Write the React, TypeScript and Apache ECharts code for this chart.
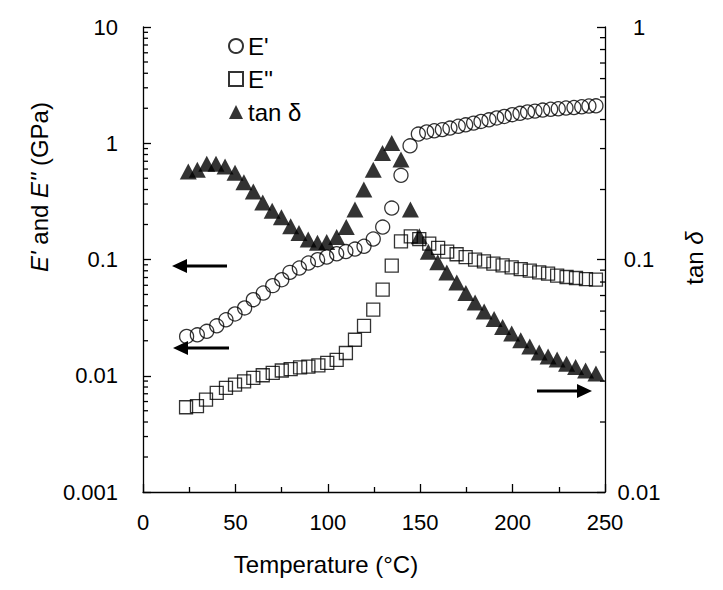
import React, { useEffect, useRef } from "react";
import * as echarts from "echarts";

// Temperature (°C) and moduli (GPa)
const tempStorage = [23.6, 29.4, 34.5, 39.9, 44.9, 49.8, 55.0, 59.7, 65.1, 70.2, 75.1, 79.5, 84.6, 89.5, 94.5, 99.4, 104.8, 109.8, 114.7, 119.6, 124.6, 129.7, 134.6, 139.6, 144.5, 149.0, 153.5, 157.6, 162.0, 166.1, 170.6, 174.6, 178.9, 182.9, 187.2, 191.4, 195.5, 199.8, 204.0, 208.1, 212.1, 216.3, 220.6, 224.7, 228.9, 233.2, 237.4, 241.3, 245.1];
const storageModulus = [0.0218, 0.0225, 0.0241, 0.0269, 0.0303, 0.034, 0.0383, 0.0451, 0.0515, 0.0596, 0.067, 0.0775, 0.0845, 0.0933, 0.0996, 0.105, 0.112, 0.117, 0.123, 0.13, 0.15, 0.19, 0.277, 0.53, 0.95, 1.2, 1.25, 1.28, 1.31, 1.35, 1.4, 1.44, 1.49, 1.54, 1.59, 1.65, 1.7, 1.76, 1.81, 1.86, 1.89, 1.93, 1.96, 1.98, 2.01, 2.03, 2.06, 2.09, 2.1];

const tempLoss = [23.3, 29.2, 34.1, 39.9, 44.9, 49.8, 54.7, 59.7, 64.8, 70.2, 75.1, 79.9, 85.0, 89.5, 94.9, 99.7, 104.8, 109.8, 114.7, 119.6, 124.6, 129.7, 134.6, 139.6, 144.9, 149.5, 154.9, 159.7, 164.6, 169.7, 174.6, 179.7, 184.5, 189.6, 194.6, 199.5, 204.4, 209.3, 214.4, 219.2, 224.1, 229.2, 234.3, 239.7, 245.1];
const lossModulus = [0.00536, 0.00547, 0.00622, 0.00711, 0.00785, 0.00838, 0.00894, 0.00957, 0.0101, 0.0106, 0.0111, 0.0114, 0.0118, 0.012, 0.0123, 0.0129, 0.0137, 0.0157, 0.0204, 0.0269, 0.037, 0.055, 0.0885, 0.143, 0.158, 0.15, 0.137, 0.126, 0.117, 0.111, 0.105, 0.0996, 0.0964, 0.092, 0.089, 0.0855, 0.0828, 0.0801, 0.0775, 0.0755, 0.0726, 0.0707, 0.0693, 0.0679, 0.067];

const tempTan = [24.5, 29.4, 34.5, 39.5, 44.4, 49.8, 54.6, 59.7, 64.8, 69.9, 74.9, 79.9, 84.4, 89.4, 94.4, 99.4, 104.8, 110.0, 114.7, 119.5, 124.6, 129.6, 134.6, 139.6, 144.7, 149.5, 154.4, 159.5, 164.4, 169.8, 174.7, 179.7, 184.6, 190.0, 194.6, 199.5, 204.4, 209.3, 214.4, 219.2, 224.1, 229.2, 234.1, 239.5, 245.1];
const tanDelta = [0.239, 0.243, 0.258, 0.258, 0.251, 0.236, 0.215, 0.196, 0.176, 0.162, 0.152, 0.139, 0.13, 0.122, 0.118, 0.119, 0.125, 0.138, 0.164, 0.2, 0.243, 0.287, 0.317, 0.269, 0.164, 0.126, 0.108, 0.0972, 0.088, 0.0797, 0.0718, 0.0654, 0.0598, 0.0555, 0.0513, 0.048, 0.0449, 0.0423, 0.0398, 0.0383, 0.0371, 0.0356, 0.0345, 0.0333, 0.0323];

const seriesNames = ["E'", "E''", "tan δ"];
const leftDecades = [0.001, 0.01, 0.1, 1];
const rightDecades = [0.01, 0.1];
const minorMultipliers = [2, 3, 4, 5, 6, 7, 8, 9];

const FONT = "'Liberation Sans', Arial, sans-serif";
const TICK_FS = 22;
const TITLE_FS = 24;

const minorValues = (decades: number[]) =>
  decades.flatMap((d) => minorMultipliers.map((m) => +(d * m).toPrecision(3)));

const fmt = (v: number) => String(parseFloat(Number(v).toPrecision(6)));

export default function App() {
  const ref = useRef<HTMLDivElement>(null);

  useEffect(() => {
    if (!ref.current) return;
    const chart = echarts.init(ref.current, undefined, { renderer: "svg" });

    const tickSeries = (vals: number[], axisIdx: number, xVal: number, dir: number) => ({
      type: "custom",
      name: "ticks" + axisIdx,
      yAxisIndex: axisIdx,
      silent: true,
      clip: false,
      z: 5,
      data: vals.map((v) => [xVal, v]),
      renderItem: (_p: any, api: any) => {
        const p = api.coord([api.value(0), api.value(1)]);
        return {
          type: "line",
          shape: { x1: p[0], y1: p[1], x2: p[0] + dir * 5, y2: p[1] },
          style: { stroke: "#000", lineWidth: 1.3 },
        };
      },
    });

    const axisLineStyle = { color: "#000", width: 1.3 };

    const arrow = (tipX: number, y: number, tailX: number) => {
      const dir = tailX > tipX ? 1 : -1;
      const baseX = tipX + dir * 15;
      return [
        {
          type: "line",
          shape: { x1: baseX - dir * 1, y1: y, x2: tailX, y2: y },
          style: { stroke: "#000", lineWidth: 3 },
        },
        {
          type: "polygon",
          shape: { points: [[tipX, y], [baseX, y - 7], [baseX, y + 7]] },
          style: { fill: "#000" },
        },
      ];
    };

    const titleText = (text: string, x: number, y: number, rotation: number) => ({
      type: "text",
      x,
      y,
      rotation,
      style: {
        text,
        fontSize: TITLE_FS,
        fontFamily: FONT,
        fill: "#000",
        align: "center",
        verticalAlign: "middle",
        rich: { i: { fontStyle: "italic", fontSize: TITLE_FS, fontFamily: FONT, fill: "#000" } },
      },
    });

    chart.setOption({
      animation: false,
      textStyle: { fontFamily: FONT, color: "#000" },
      grid: { left: 143, top: 27, width: 462, height: 465 },
      legend: {
        orient: "vertical",
        left: 223,
        top: 29,
        itemWidth: 14,
        itemHeight: 14,
        itemGap: 9,
        selectedMode: false,
        data: [
          { name: seriesNames[0], icon: "circle" },
          { name: seriesNames[1], icon: "rect" },
          { name: seriesNames[2], icon: "triangle" },
        ],
        textStyle: { fontSize: TITLE_FS, color: "#000", fontFamily: FONT },
      },
      xAxis: {
        type: "value",
        min: 0,
        max: 250,
        interval: 50,
        axisLine: { lineStyle: axisLineStyle },
        axisTick: { inside: true, length: 8, lineStyle: axisLineStyle },
        minorTick: { show: true, splitNumber: 2, length: 5, lineStyle: axisLineStyle },
        splitLine: { show: false },
        axisLabel: { fontSize: TICK_FS, color: "#000", margin: 19, fontFamily: FONT },
      },
      yAxis: [
        {
          type: "log",
          logBase: 10,
          min: 0.001,
          max: 10,
          position: "left",
          axisLine: { show: true, lineStyle: axisLineStyle },
          axisTick: { show: true, inside: true, length: 8, lineStyle: axisLineStyle },
          splitLine: { show: false },
          axisLabel: { fontSize: TICK_FS, color: "#000", margin: 25, fontFamily: FONT, formatter: fmt },
        },
        {
          type: "log",
          logBase: 10,
          min: 0.01,
          max: 1,
          position: "right",
          axisLine: { show: true, lineStyle: axisLineStyle },
          axisTick: { show: true, inside: true, length: 8, lineStyle: axisLineStyle },
          splitLine: { show: false },
          axisLabel: { fontSize: TICK_FS, color: "#000", margin: 34, align: "center", fontFamily: FONT, formatter: fmt },
        },
      ],
      graphic: [
        titleText("{i|E'} and {i|E''} (GPa)", 39, 187, Math.PI / 2),
        titleText("tan {i|δ}", 694, 258, Math.PI / 2),
        titleText("Temperature (°C)", 326, 564, 0),
        ...arrow(172, 266, 227),
        ...arrow(173, 348, 229),
        ...arrow(592, 391, 537),
      ],
      series: [
        {
          name: seriesNames[0],
          type: "scatter",
          yAxisIndex: 0,
          symbol: "circle",
          symbolSize: 14,
          silent: true,
          itemStyle: { color: "rgba(255,255,255,0)", borderColor: "#000", borderWidth: 1.3 },
          data: tempStorage.map((t, i) => [t, storageModulus[i]]),
        },
        {
          name: seriesNames[1],
          type: "scatter",
          yAxisIndex: 0,
          symbol: "rect",
          symbolSize: 13,
          silent: true,
          itemStyle: { color: "rgba(255,255,255,0)", borderColor: "#000", borderWidth: 1.3 },
          data: tempLoss.map((t, i) => [t, lossModulus[i]]),
        },
        {
          name: seriesNames[2],
          type: "scatter",
          yAxisIndex: 1,
          symbol: "triangle",
          symbolSize: [17, 16],
          silent: true,
          itemStyle: { color: "#000" },
          data: tempTan.map((t, i) => [t, tanDelta[i]]),
        },
        tickSeries(minorValues(leftDecades), 0, 0, 1),
        tickSeries(minorValues(rightDecades), 1, 250, -1),
      ],
    });

    return () => chart.dispose();
  }, []);

  return (
    <div
      ref={ref}
      style={{ position: "absolute", left: 0, top: 0, width: 723, height: 590, background: "#fff" }}
    />
  );
}
